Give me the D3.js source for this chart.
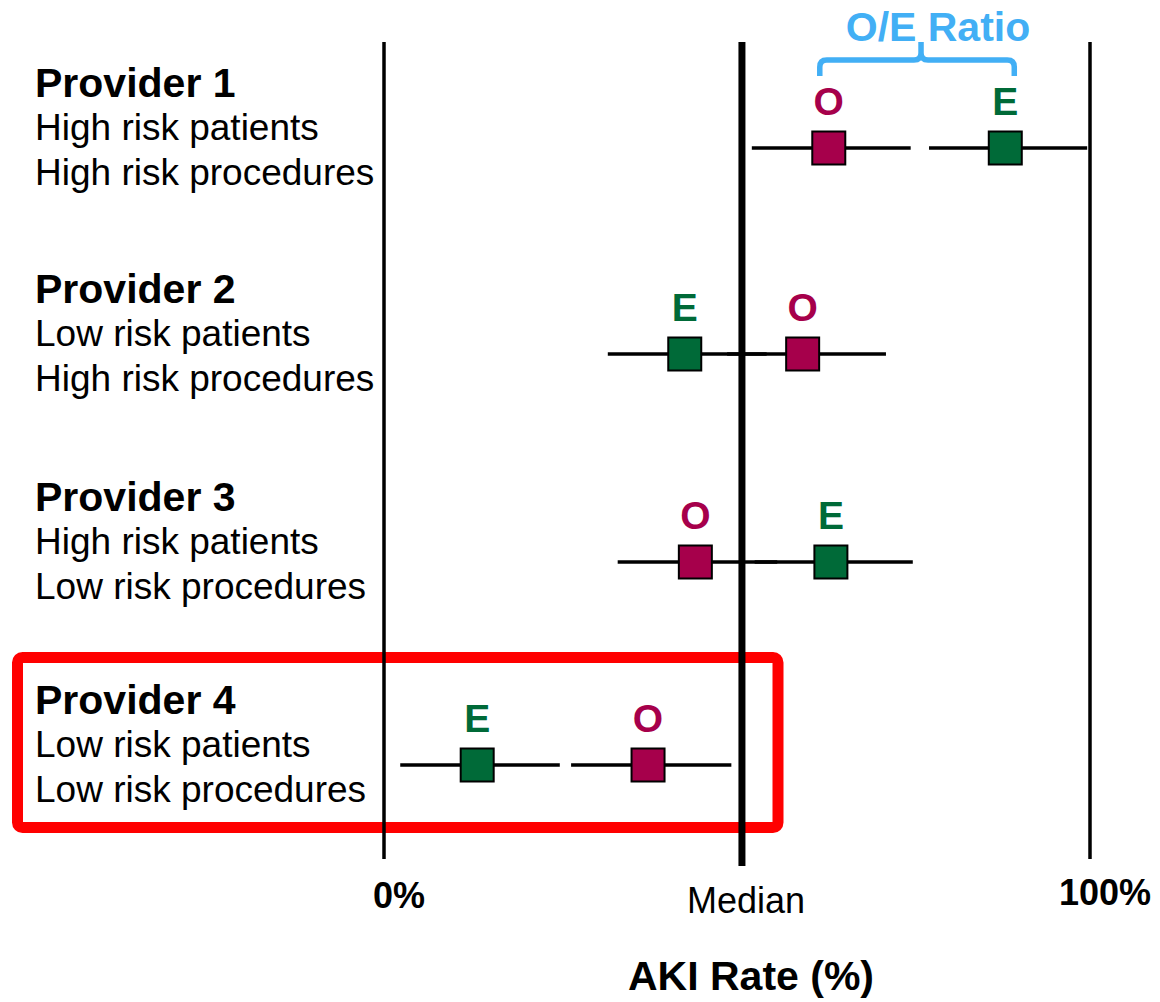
<!DOCTYPE html>
<html>
<head>
<meta charset="utf-8">
<script src="https://cdn.jsdelivr.net/npm/d3@7"></script>
<style>
  html, body { margin: 0; padding: 0; background: #fff; }
  svg { display: block; font-family: "Liberation Sans", Arial, sans-serif; }
</style>
</head>
<body>
<svg id="chart" width="1160" height="1002"></svg>
<script>
// ---- data ----
const providers = ["Provider 1", "Provider 2", "Provider 3", "Provider 4"];
const patientRisk = ["High risk patients", "Low risk patients", "High risk patients", "Low risk patients"];
const procedureRisk = ["High risk procedures", "High risk procedures", "Low risk procedures", "Low risk procedures"];
// Observed (O) AKI rate and interval, %
const observed   = [63.0, 59.3, 44.1, 37.4];
const observedLo = [52.1, 48.6, 33.1, 26.5];
const observedHi = [74.6, 71.1, 55.7, 49.2];
// Expected (E) AKI rate and interval, %
const expected   = [88.0, 42.6, 63.3, 13.2];
const expectedLo = [77.2, 31.7, 52.5,  2.3];
const expectedHi = [99.6, 54.2, 74.9, 24.9];
const medianValue = 50.7;
const tickValues = [0, 100];
const tickLabels = ["0%", "100%"];
const medianLabel = "Median";
const axisTitle = "AKI Rate (%)";
const bracketLabel = "O/E Ratio";
const highlighted = "Provider 4";

// ---- layout ----
const svg = d3.select("#chart");
const colO = "#a6004b", colE = "#006a38", colBracket = "#42aff5";
const x = d3.scaleLinear().domain([0, 100]).range([384, 1090]);
const y = d3.scalePoint().domain(providers).range([148, 765]);
const rowY = [148, 354, 562, 765];
const yRow = i => rowY[i];
const lineTop = 42;

// red highlight box (behind everything)
const hi = providers.indexOf(highlighted);
svg.append("rect")
  .attr("x", 17.5).attr("y", yRow(hi) - 107.5)
  .attr("width", 760.5).attr("height", 170)
  .attr("rx", 5)
  .attr("fill", "none").attr("stroke", "#ff0000").attr("stroke-width", 11);

// vertical reference lines
tickValues.forEach((v, i) => {
  svg.append("line")
    .attr("x1", x(v)).attr("x2", x(v))
    .attr("y1", lineTop).attr("y2", 859)
    .attr("stroke", "#000").attr("stroke-width", 3.5);
});
svg.append("line")
  .attr("x1", x(medianValue)).attr("x2", x(medianValue))
  .attr("y1", lineTop).attr("y2", 866)
  .attr("stroke", "#000").attr("stroke-width", 7);

// tick labels
tickValues.forEach((v, i) => {
  svg.append("text")
    .attr("x", x(v) + 15).attr("y", i === 0 ? 908 : 905)
    .attr("text-anchor", "middle")
    .attr("font-weight", "bold").attr("font-size", 36)
    .text(tickLabels[i]);
});
svg.append("text")
  .attr("x", x(medianValue) + 4).attr("y", 913)
  .attr("text-anchor", "middle").attr("font-size", 36)
  .text(medianLabel);
svg.append("text")
  .attr("x", 751).attr("y", 990)
  .attr("text-anchor", "middle").attr("font-weight", "bold").attr("font-size", 41)
  .text(axisTitle);

// row labels
providers.forEach((p, i) => {
  const base = yRow(i);
  svg.append("text").attr("x", 35).attr("y", base - 51)
    .attr("font-weight", "bold").attr("font-size", 41).text(p);
  svg.append("text").attr("x", 35).attr("y", base - 8)
    .attr("font-size", 37).text(patientRisk[i]);
  svg.append("text").attr("x", 35).attr("y", base + 37)
    .attr("font-size", 37).text(procedureRisk[i]);
});

// whiskers, markers, letters
const series = [
  { key: "O", val: observed, lo: observedLo, hi: observedHi, col: colO },
  { key: "E", val: expected, lo: expectedLo, hi: expectedHi, col: colE }
];
const size = 33;
series.forEach(s => {
  providers.forEach((p, i) => {
    const cy = yRow(i);
    svg.append("line")
      .attr("x1", x(s.lo[i])).attr("x2", x(s.hi[i]))
      .attr("y1", cy).attr("y2", cy)
      .attr("stroke", "#000").attr("stroke-width", 3.5);
  });
});
series.forEach(s => {
  providers.forEach((p, i) => {
    const cy = yRow(i);
    svg.append("rect")
      .attr("x", x(s.val[i]) - size / 2).attr("y", cy - size / 2)
      .attr("width", size).attr("height", size)
      .attr("fill", s.col).attr("stroke", "#000").attr("stroke-width", 2);
    svg.append("text")
      .attr("x", x(s.val[i])).attr("y", cy - 33)
      .attr("text-anchor", "middle").attr("font-weight", "bold").attr("font-size", 39)
      .attr("fill", s.col).text(s.key);
  });
});

// O/E ratio bracket over provider 1
const bl = x(observed[0]) - 9, br = x(expected[0]) + 9;
const bm = (bl + br) / 2 + 4;
const by = 60, bb = 76, r = 7;
const path = `M${bl},${bb} L${bl},${by + r} Q${bl},${by} ${bl + r},${by}
  L${bm - r},${by} Q${bm},${by} ${bm},${by - r} L${bm},${lineTop}
  M${bm},${by - r} Q${bm},${by} ${bm + r},${by} L${br - r},${by} Q${br},${by} ${br},${by + r} L${br},${bb}`;
svg.append("path").attr("d", path)
  .attr("fill", "none").attr("stroke", colBracket).attr("stroke-width", 5.5)
  .attr("stroke-linecap", "butt").attr("stroke-linejoin", "round");
svg.append("text")
  .attr("x", 938).attr("y", 41)
  .attr("text-anchor", "middle").attr("font-weight", "bold").attr("font-size", 41)
  .attr("fill", colBracket).text(bracketLabel);
</script>
</body>
</html>
